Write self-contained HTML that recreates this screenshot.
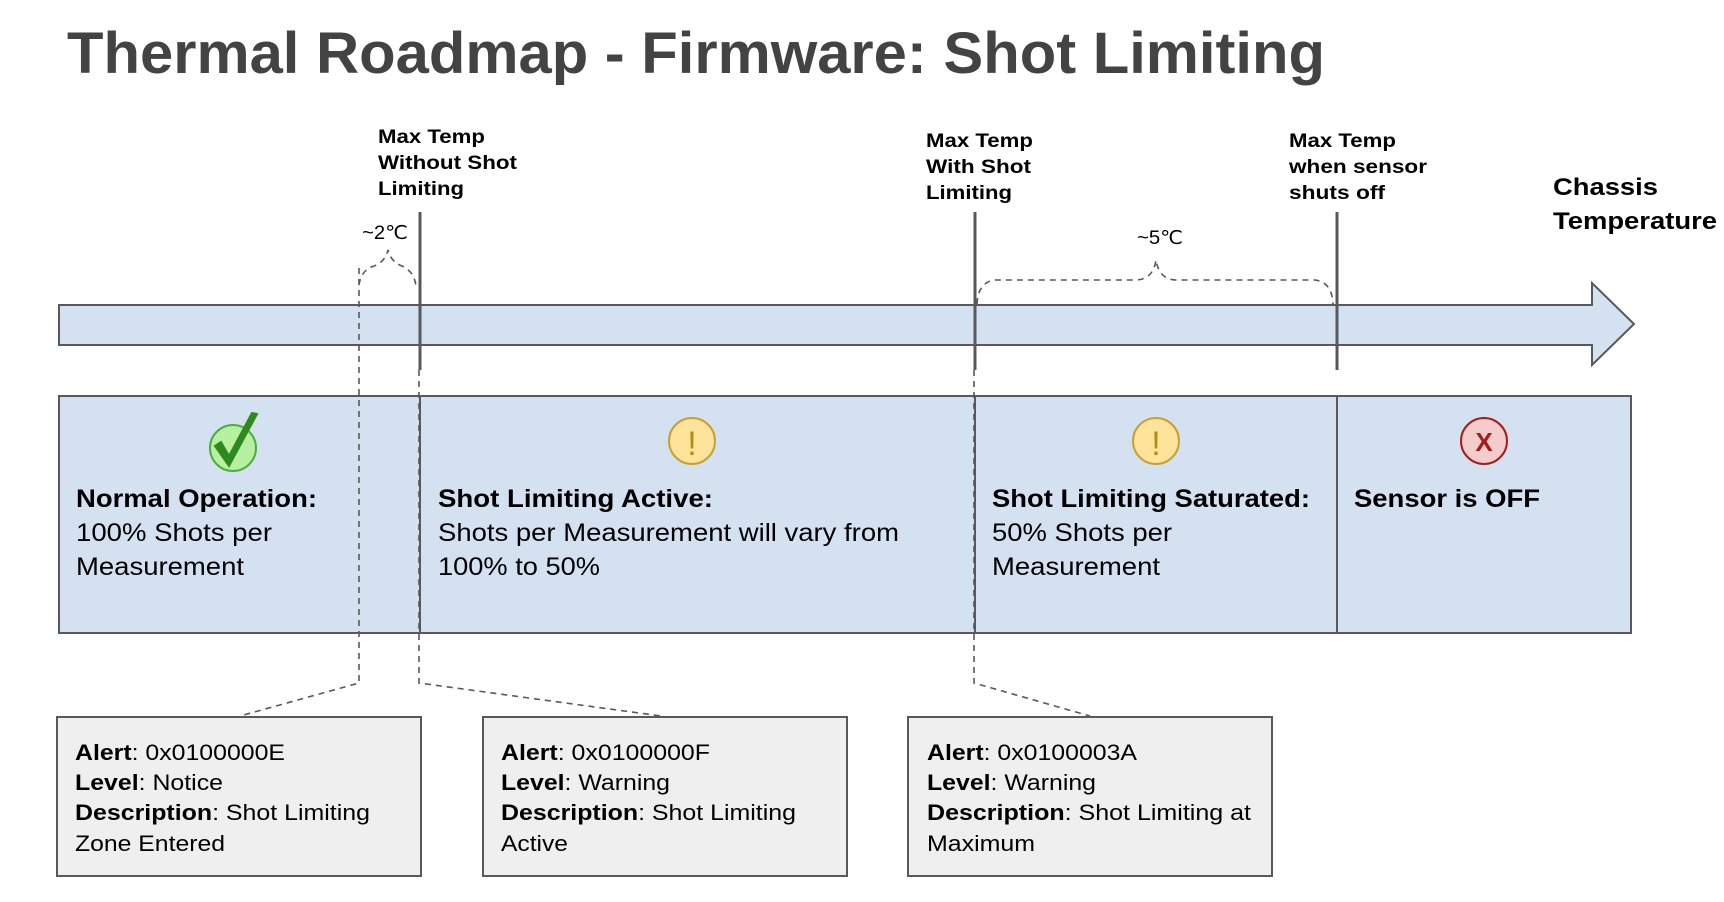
<!DOCTYPE html>
<html><head><meta charset="utf-8"><style>
html,body{margin:0;padding:0;background:#fff;}
svg{display:block;font-family:"Liberation Sans","DejaVu Sans",sans-serif;}
</style></head><body>
<svg width="1724" height="902" viewBox="0 0 1724 902" xmlns="http://www.w3.org/2000/svg">
<text x="67" y="73" font-size="58" font-weight="bold" fill="#434343" textLength="1258" lengthAdjust="spacingAndGlyphs">Thermal Roadmap - Firmware: Shot Limiting</text>

<path d="M59 305 H1592 V283 L1634 324 L1592 365 V345 H59 Z" fill="#d4e1f1" stroke="#595959" stroke-width="2"/>

<rect x="59" y="396" width="1572" height="237" fill="#d4e1f1" stroke="#595959" stroke-width="2"/>
<line x1="420" y1="396" x2="420" y2="633" stroke="#595959" stroke-width="2"/>
<line x1="975" y1="396" x2="975" y2="633" stroke="#595959" stroke-width="2"/>
<line x1="1337" y1="396" x2="1337" y2="633" stroke="#595959" stroke-width="2"/>

<g stroke="#595959" stroke-width="3">
<line x1="420" y1="212" x2="420" y2="370"/>
<line x1="975" y1="212" x2="975" y2="370"/>
<line x1="1337" y1="212" x2="1337" y2="370"/>
</g>

<g stroke="#595959" stroke-width="1.6" stroke-dasharray="6,5" fill="none">
<path d="M359 268 V683 L240 716"/>
<path d="M419 370 V683 L661 716"/>
<path d="M974 370 V683 L1090 716"/>
<path d="M359 285 Q361 270 374 266 Q385 262 388 250 Q391 262 402 266 Q415 272 416 287"/>
<path d="M977 304 Q978 282 995 280 H1135 Q1153 280 1156 260 Q1159 280 1177 280 H1315 Q1332 282 1333 304"/>
</g>
<text x="362" y="239" font-size="19" textLength="46" lengthAdjust="spacingAndGlyphs">~2℃</text>
<text x="1137" y="244" font-size="19" textLength="46" lengthAdjust="spacingAndGlyphs">~5℃</text>

<g font-size="19" font-weight="bold" fill="#000">
<text x="378" y="143" textLength="107" lengthAdjust="spacingAndGlyphs">Max Temp</text><text x="378" y="169" textLength="139" lengthAdjust="spacingAndGlyphs">Without Shot</text><text x="378" y="195" textLength="86" lengthAdjust="spacingAndGlyphs">Limiting</text>
<text x="926" y="147" textLength="107" lengthAdjust="spacingAndGlyphs">Max Temp</text><text x="926" y="173" textLength="105" lengthAdjust="spacingAndGlyphs">With Shot</text><text x="926" y="199" textLength="86" lengthAdjust="spacingAndGlyphs">Limiting</text>
<text x="1289" y="147" textLength="107" lengthAdjust="spacingAndGlyphs">Max Temp</text><text x="1289" y="173" textLength="138" lengthAdjust="spacingAndGlyphs">when sensor</text><text x="1289" y="199" textLength="96" lengthAdjust="spacingAndGlyphs">shuts off</text>
</g>
<text x="1553" y="195" font-size="24" font-weight="bold" textLength="105" lengthAdjust="spacingAndGlyphs">Chassis</text>
<text x="1553" y="229" font-size="24" font-weight="bold" textLength="164" lengthAdjust="spacingAndGlyphs">Temperature</text>

<circle cx="233" cy="448" r="23" fill="#b7f0a0" stroke="#4caf3a" stroke-width="2"/>
<path d="M215 446 L229 466 L257 414 L252 413 L229 456 L221 442 Z" fill="#2e8a1e" stroke="#2e8a1e" stroke-width="2"/>
<circle cx="692" cy="441" r="23" fill="#fde49a" stroke="#c9a030" stroke-width="2"/>
<text x="692" y="455" font-size="34" text-anchor="middle" fill="#b58a16">!</text>
<circle cx="1156" cy="441" r="23" fill="#fde49a" stroke="#c9a030" stroke-width="2"/>
<text x="1156" y="455" font-size="34" text-anchor="middle" fill="#b58a16">!</text>
<circle cx="1484" cy="441" r="23" fill="#f4cccc" stroke="#a61c1c" stroke-width="2"/>
<text x="1484" y="451" font-size="26" font-weight="bold" text-anchor="middle" fill="#a61c1c">X</text>

<g font-size="25" fill="#000">
<text x="76" y="507" font-weight="bold" textLength="241" lengthAdjust="spacingAndGlyphs">Normal Operation:</text>
<text x="76" y="541" textLength="196" lengthAdjust="spacingAndGlyphs">100% Shots per</text>
<text x="76" y="575" textLength="168" lengthAdjust="spacingAndGlyphs">Measurement</text>
<text x="438" y="507" font-weight="bold" textLength="275" lengthAdjust="spacingAndGlyphs">Shot Limiting Active:</text>
<text x="438" y="541" textLength="461" lengthAdjust="spacingAndGlyphs">Shots per Measurement will vary from</text>
<text x="438" y="575" textLength="162" lengthAdjust="spacingAndGlyphs">100% to 50%</text>
<text x="992" y="507" font-weight="bold" textLength="318" lengthAdjust="spacingAndGlyphs">Shot Limiting Saturated:</text>
<text x="992" y="541" textLength="180" lengthAdjust="spacingAndGlyphs">50% Shots per</text>
<text x="992" y="575" textLength="168" lengthAdjust="spacingAndGlyphs">Measurement</text>
<text x="1354" y="507" font-weight="bold" textLength="186" lengthAdjust="spacingAndGlyphs">Sensor is OFF</text>
</g>

<g fill="#efefef" stroke="#595959" stroke-width="2">
<rect x="57" y="717" width="364" height="159"/>
<rect x="483" y="717" width="364" height="159"/>
<rect x="908" y="717" width="364" height="159"/>
</g>
<g font-size="22" fill="#000">
<text x="75" y="760" textLength="210" lengthAdjust="spacingAndGlyphs"><tspan font-weight="bold">Alert</tspan>: 0x0100000E</text>
<text x="75" y="790" textLength="148" lengthAdjust="spacingAndGlyphs"><tspan font-weight="bold">Level</tspan>: Notice</text>
<text x="75" y="820" textLength="295" lengthAdjust="spacingAndGlyphs"><tspan font-weight="bold">Description</tspan>: Shot Limiting</text>
<text x="75" y="851" textLength="150" lengthAdjust="spacingAndGlyphs">Zone Entered</text>
<text x="501" y="760" textLength="209" lengthAdjust="spacingAndGlyphs"><tspan font-weight="bold">Alert</tspan>: 0x0100000F</text>
<text x="501" y="790" textLength="169" lengthAdjust="spacingAndGlyphs"><tspan font-weight="bold">Level</tspan>: Warning</text>
<text x="501" y="820" textLength="295" lengthAdjust="spacingAndGlyphs"><tspan font-weight="bold">Description</tspan>: Shot Limiting</text>
<text x="501" y="851" textLength="67" lengthAdjust="spacingAndGlyphs">Active</text>
<text x="927" y="760" textLength="210" lengthAdjust="spacingAndGlyphs"><tspan font-weight="bold">Alert</tspan>: 0x0100003A</text>
<text x="927" y="790" textLength="169" lengthAdjust="spacingAndGlyphs"><tspan font-weight="bold">Level</tspan>: Warning</text>
<text x="927" y="820" textLength="324" lengthAdjust="spacingAndGlyphs"><tspan font-weight="bold">Description</tspan>: Shot Limiting at</text>
<text x="927" y="851" textLength="108" lengthAdjust="spacingAndGlyphs">Maximum</text>
</g>
</svg>
</body></html>
